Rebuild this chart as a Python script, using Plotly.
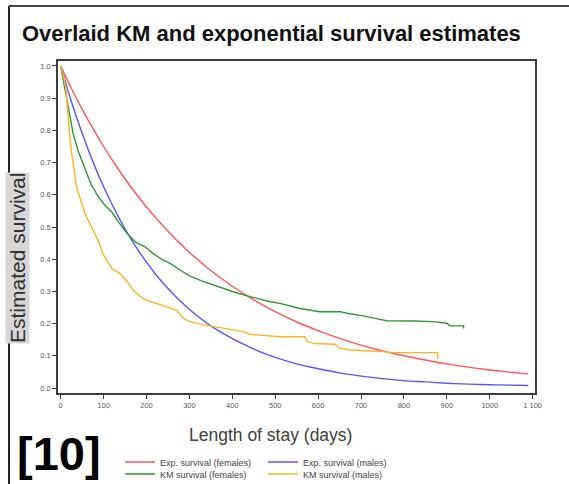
import plotly.graph_objects as go

# ---------------- data ----------------
exp_days = [2, 25, 50, 75, 100, 125, 150, 175, 200, 225, 250, 275, 300, 350, 400,
            450, 500, 550, 600, 650, 700, 750, 800, 850, 900, 950, 1000, 1050, 1090]
exp_female = [0.994, 0.930, 0.866, 0.806, 0.750, 0.698, 0.649, 0.604, 0.562, 0.523,
              0.487, 0.453, 0.421, 0.365, 0.316, 0.274, 0.237, 0.205, 0.178, 0.154,
              0.133, 0.115, 0.100, 0.087, 0.075, 0.065, 0.056, 0.049, 0.043]
exp_male = [0.991, 0.889, 0.791, 0.703, 0.625, 0.556, 0.494, 0.439, 0.391, 0.347,
            0.309, 0.275, 0.244, 0.193, 0.153, 0.121, 0.095, 0.075, 0.060, 0.047,
            0.037, 0.029, 0.023, 0.019, 0.015, 0.012, 0.010, 0.009, 0.008]

km_f_days = [0, 2, 5, 10, 18, 29, 41, 57, 70, 85, 100, 120, 135, 155, 175, 195, 215,
             235, 255, 280, 300, 330, 356, 380, 402, 441, 488, 511, 534, 558, 604,
             651, 667, 705, 744, 760, 822, 868, 900, 907, 939, 939]
km_f_surv = [1.0, 0.985, 0.96, 0.93, 0.87, 0.79, 0.735, 0.68, 0.635, 0.60, 0.572,
             0.545, 0.515, 0.48, 0.452, 0.44, 0.418, 0.40, 0.387, 0.365, 0.348, 0.332,
             0.32, 0.31, 0.299, 0.284, 0.268, 0.263, 0.254, 0.247, 0.237, 0.237, 0.232,
             0.224, 0.213, 0.209, 0.208, 0.206, 0.201, 0.193, 0.193, 0.185]

km_m_days = [0, 3, 8, 12, 16, 20, 25, 30, 37, 45, 57, 68, 80, 90, 99, 107, 120, 138,
             155, 169, 185, 200, 225, 247, 270, 286, 300, 330, 360, 400, 425, 441, 511,
             569, 575, 590, 640, 651, 674, 752, 770, 879, 879]
km_m_surv = [1.0, 0.985, 0.96, 0.93, 0.86, 0.80, 0.735, 0.69, 0.625, 0.59, 0.54, 0.51,
             0.475, 0.45, 0.415, 0.398, 0.37, 0.356, 0.33, 0.304, 0.285, 0.273, 0.262,
             0.252, 0.242, 0.216, 0.207, 0.197, 0.19, 0.182, 0.175, 0.167, 0.159, 0.159,
             0.145, 0.138, 0.136, 0.123, 0.118, 0.113, 0.11, 0.11, 0.09]

x_ticks = [0, 100, 200, 300, 400, 500, 600, 700, 800, 900, 1000, 1100]
x_tick_text = ["0", "100", "200", "300", "400", "500", "600", "700", "800", "900", "1000", "1 100"]
y_ticks = [0.0, 0.1, 0.2, 0.3, 0.4, 0.5, 0.6, 0.7, 0.8, 0.9, 1.0]
y_tick_text = ["0.0", "0.1", "0.2", "0.3", "0.4", "0.5", "0.6", "0.7", "0.8", "0.9", "1.0"]

title_text = "Overlaid KM and exponential survival estimates"
x_title = "Length of stay (days)"
y_title = "Estimated survival"
ref_label = "[10]"

RED, BLUE, GREEN, ORANGE = "#ff5555", "#5555ff", "#2f972f", "#ffb327"
FONT = "Liberation Sans, Arial, sans-serif"

W, H = 569, 484
L, R, T, B = 58, 535, 61, 393  # plot area in pixels


def px(xp):
    return (xp - L) / (R - L)


def py(yp):
    return (B - yp) / (B - T)


# ---------------- figure ----------------
fig = go.Figure()
fig.add_trace(go.Scatter(x=exp_days, y=exp_female, mode="lines", name="Exp. survival (females)",
                         line=dict(color=RED, width=1.4, shape="spline"), legend="legend"))
fig.add_trace(go.Scatter(x=exp_days, y=exp_male, mode="lines", name="Exp. survival (males)",
                         line=dict(color=BLUE, width=1.4, shape="spline"), legend="legend2"))
fig.add_trace(go.Scatter(x=km_f_days, y=km_f_surv, mode="lines", name="KM survival (females)",
                         line=dict(color=GREEN, width=1.4), legend="legend3"))
fig.add_trace(go.Scatter(x=km_m_days, y=km_m_surv, mode="lines", name="KM survival (males)",
                         line=dict(color=ORANGE, width=1.4), legend="legend4"))

axis_common = dict(showline=True, mirror=True, linecolor="#3c3c3c", linewidth=1.5,
                   ticks="outside", ticklen=4, tickcolor="#3c3c3c", tickwidth=1,
                   showgrid=False, zeroline=False, automargin=False,
                   tickfont=dict(family=FONT, size=7.5, color="#555555"))


def legend_at(xp, yp):
    return dict(x=px(xp), y=py(yp), xanchor="left", yanchor="middle", bgcolor="rgba(0,0,0,0)",
                font=dict(family=FONT, size=9, color="#444444"), tracegroupgap=0,
                itemwidth=30, borderwidth=0)


fig.update_layout(
    width=W, height=H,
    margin=dict(l=L, r=W - R, t=T, b=H - B, autoexpand=False),
    paper_bgcolor="white", plot_bgcolor="white",
    title=dict(text="<b>" + title_text + "</b>", x=22 / W, xanchor="left", xref="container",
               y=1 - 33 / H, yanchor="middle", automargin=False,
               font=dict(family=FONT, size=22, color="#111111")),
    xaxis=dict(range=[-6.3, 1105.5], tickvals=x_ticks, ticktext=x_tick_text, **axis_common),
    yaxis=dict(range=[-0.0155, 1.0155], tickvals=y_ticks, ticktext=y_tick_text, **axis_common),
    legend=legend_at(120, 462),
    legend2=legend_at(263, 462),
    legend3=legend_at(120, 474),
    legend4=legend_at(263, 474),
    showlegend=True,
)

# axis titles and label as annotations positioned like the reference
fig.add_annotation(text=x_title, xref="paper", yref="paper", x=px(270), y=py(435),
                   xanchor="center", yanchor="middle",
                   showarrow=False, font=dict(family=FONT, size=17.5, color="#404040"))
fig.add_annotation(text=y_title, xref="paper", yref="paper", x=px(17), y=py(258),
                   xanchor="center", yanchor="middle",
                   showarrow=False, textangle=-90, bgcolor="#d6d6d6", borderpad=0,
                   font=dict(family=FONT, size=21, color="#303030"))
fig.add_annotation(text="<b>" + ref_label + "</b>", xref="paper", yref="paper", x=px(59), y=py(453),
                   xanchor="center", yanchor="middle",
                   showarrow=False, font=dict(family=FONT, size=47, color="#000000"))

# outer slide frame (left and top)
fig.add_shape(type="line", xref="paper", yref="paper", x0=px(9), x1=px(9), y0=py(6), y1=py(490),
              line=dict(color="#222222", width=2))
fig.add_shape(type="line", xref="paper", yref="paper", x0=px(9), x1=px(575), y0=py(6), y1=py(6),
              line=dict(color="#444444", width=2))

fig.write_html("out.html")
